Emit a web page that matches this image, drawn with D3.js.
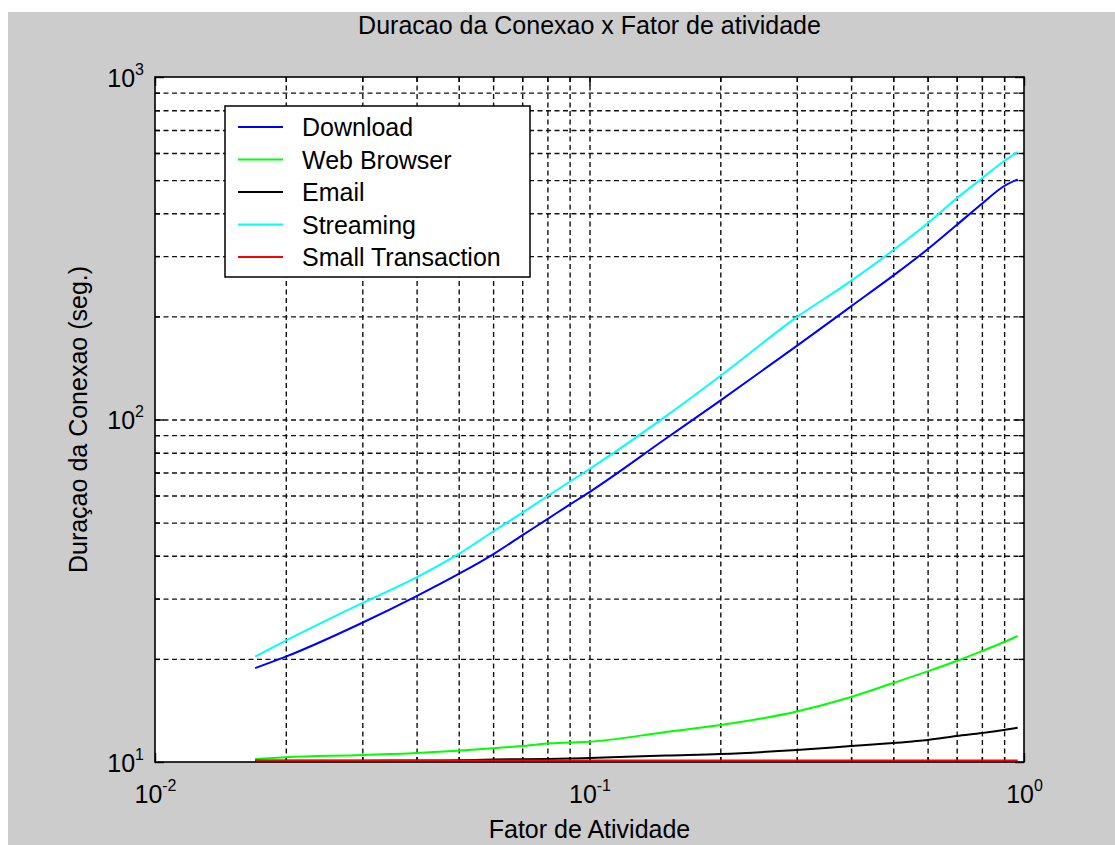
<!DOCTYPE html>
<html><head><meta charset="utf-8">
<script src="https://cdn.jsdelivr.net/npm/d3@7"></script>
<style>
body{margin:0;background:#fff}
svg{display:block}
text{font-family:"Liberation Sans",Arial,sans-serif;fill:#000}
</style>
</head><body>
<svg id="c" width="1115" height="845"></svg>
<script>
// ---- data ----
const activity = [0.017,0.02,0.03,0.04,0.05,0.06,0.07,0.08,0.09,0.1,0.15,0.2,0.3,0.4,0.5,0.6,0.7,0.8,0.9,0.967];
const download = [18.8,20.3,25.5,30.5,35.4,40.4,45.9,51.2,56.4,61.4,88.0,113.5,164,214,263,314,369.8,426.5,480.6,502.7];
const webBrowser = [10.2,10.32,10.48,10.63,10.8,10.96,11.13,11.32,11.4,11.46,12.24,12.82,14.04,15.48,17.0,18.39,19.72,21.07,22.4,23.33];
const email = [10.08,10.08,10.09,10.1,10.12,10.17,10.19,10.21,10.23,10.27,10.45,10.55,10.84,11.13,11.36,11.59,11.91,12.15,12.4,12.59];
const streaming = [20.3,22.6,29.1,34.6,40.5,47.1,53.4,59.7,65.8,71.7,102.3,134,199,254,312,374,442.3,505.5,568.6,604];
const smallTransaction = [10.1,10.1,10.1,10.1,10.1,10.1,10.1,10.1,10.1,10.1,10.1,10.1,10.1,10.1,10.1,10.1,10.1,10.1,10.1,10.1];

const seriesNames = ["Download","Web Browser","Email","Streaming","Small Transaction"];
const seriesValues = [download, webBrowser, email, streaming, smallTransaction];
const seriesColors = ["#0000ff","#00ff00","#000000","#00ffff","#ff0000"];

const xMajorTicks = [0.01, 0.1, 1];
const xTickExponents = ["-2","-1","0"];
const yMajorTicks = [10, 100, 1000];
const yTickExponents = ["1","2","3"];

const titleText = "Duracao da Conexao x Fator de atividade";
const xLabelText = "Fator de Atividade";
const yLabelText = "Duraçao da Conexao (seg.)";

// ---- layout ----
const W = 1115, H = 845;
const P = {l:155, t:77, r:1024, b:762};
const FONT = '"Liberation Sans", Arial, sans-serif';

const svg = d3.select("#c");
svg.append("rect").attr("x",8).attr("y",12).attr("width",W-8).attr("height",H-12).attr("fill","#cccccc");

const x = d3.scaleLog().domain([0.01,1]).range([P.l,P.r]);
const y = d3.scaleLog().domain([10,1000]).range([P.b,P.t]);

svg.append("rect").attr("x",P.l).attr("y",P.t).attr("width",P.r-P.l).attr("height",P.b-P.t).attr("fill","#fff");

const isMajor = v => Math.abs(Math.log10(v) - Math.round(Math.log10(v))) < 1e-9;
const xt = x.ticks();
const yt = y.ticks();

// grid
const gridX = svg.append("g").attr("transform",`translate(0,${P.b})`)
  .call(d3.axisBottom(x).tickValues(xt.filter(v=>v>0.01 && v<1)).tickSize(-(P.b-P.t)).tickFormat(""));
gridX.select(".domain").remove();
gridX.selectAll(".tick line").attr("stroke","#111").attr("stroke-width",1.4).attr("stroke-dasharray","5,3.5");

const gridY = svg.append("g").attr("transform",`translate(${P.l},0)`)
  .call(d3.axisLeft(y).tickValues(yt.filter(v=>v>10 && v<1000)).tickSize(-(P.r-P.l)).tickFormat(""));
gridY.select(".domain").remove();
gridY.selectAll(".tick line").attr("stroke","#111").attr("stroke-width",1.4).attr("stroke-dasharray","5,3.5");

// ticks on four sides, inward
const tl = d => isMajor(d) ? 9 : 5;
function tickAxis(gen, tr, attr, sign){
  const g = svg.append("g").attr("transform",tr).call(gen.tickSize(0).tickFormat(""));
  g.select(".domain").remove();
  g.selectAll(".tick line").attr(attr, d => sign*tl(d)).attr("stroke","#000").attr("stroke-width",1.4);
}
tickAxis(d3.axisBottom(x).tickValues(xt), `translate(0,${P.b})`, "y2", -1);
tickAxis(d3.axisTop(x).tickValues(xt), `translate(0,${P.t})`, "y2", 1);
tickAxis(d3.axisLeft(y).tickValues(yt), `translate(${P.l},0)`, "x2", 1);
tickAxis(d3.axisRight(y).tickValues(yt), `translate(${P.r},0)`, "x2", -1);

// series lines
const line = d3.line().x((d,i)=>x(activity[i])).y(d=>y(d)).curve(d3.curveMonotoneX);
seriesValues.forEach((vals,k)=>{
  svg.append("path").datum(vals).attr("d",line).attr("fill","none")
    .attr("stroke",seriesColors[k]).attr("stroke-width",2).attr("stroke-linejoin","round");
});

// axes box
svg.append("rect").attr("x",P.l).attr("y",P.t).attr("width",P.r-P.l).attr("height",P.b-P.t)
  .attr("fill","none").attr("stroke","#000").attr("stroke-width",1.6);

// tick labels
const xl = svg.append("g").attr("transform",`translate(0,${P.b})`)
  .call(d3.axisBottom(x).tickValues(xMajorTicks).tickSize(0).tickFormat(""));
xl.select(".domain").remove();
xl.attr("font-family",FONT).attr("font-size",25);
xl.selectAll(".tick text").each(function(d,i){
  const t = d3.select(this).attr("y",41).attr("dy",null).attr("fill","#000").attr("text-anchor","middle");
  t.text("10");
  t.append("tspan").attr("dy",-12).attr("font-size",16).text(xTickExponents[i]);
});

const yl = svg.append("g").attr("transform",`translate(${P.l},0)`)
  .call(d3.axisLeft(y).tickValues(yMajorTicks).tickSize(0).tickFormat(""));
yl.select(".domain").remove();
yl.attr("font-family",FONT).attr("font-size",25);
yl.selectAll(".tick text").each(function(d,i){
  const t = d3.select(this).attr("x",-11).attr("y",9).attr("dy",null).attr("fill","#000").attr("text-anchor","end");
  t.text("10");
  t.append("tspan").attr("dy",-12).attr("font-size",16).text(yTickExponents[i]);
});

// title and axis labels
const cx = (P.l+P.r)/2, cy = (P.t+P.b)/2;
svg.append("text").attr("x",cx).attr("y",34).attr("text-anchor","middle").attr("font-size",25).text(titleText);
svg.append("text").attr("x",cx).attr("y",838).attr("text-anchor","middle").attr("font-size",25).text(xLabelText);
svg.append("text").attr("transform",`translate(87,${cy}) rotate(-90)`).attr("text-anchor","middle").attr("font-size",25).text(yLabelText);

// legend
const L = {x:225, y:106, w:305, h:171, row:32.5, first:127};
const lg = svg.append("g");
lg.append("rect").attr("x",L.x).attr("y",L.y).attr("width",L.w).attr("height",L.h)
  .attr("fill","#fff").attr("stroke","#000").attr("stroke-width",1.5);
seriesNames.forEach((n,k)=>{
  const yy = L.first + k*L.row;
  lg.append("line").attr("x1",238).attr("x2",283).attr("y1",yy).attr("y2",yy)
    .attr("stroke",seriesColors[k]).attr("stroke-width",2);
  lg.append("text").attr("x",302).attr("y",yy+9).attr("font-size",25).text(n);
});
</script>
</body></html>
